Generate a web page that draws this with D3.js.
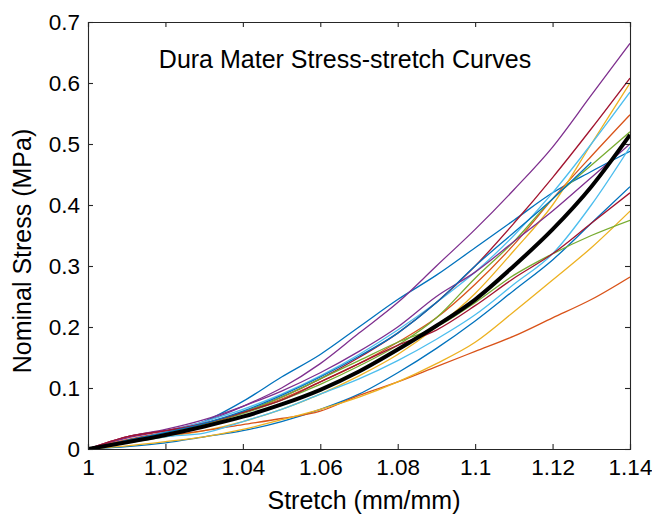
<!DOCTYPE html>
<html><head><meta charset="utf-8">
<script src="https://cdn.jsdelivr.net/npm/d3@7"></script>
<style>body{margin:0;background:#fff}svg{display:block}text{font-family:"Liberation Sans",Arial,Helvetica,sans-serif;fill:#000}</style>
</head><body>
<script>
// stretch grid (mm/mm)
const stretch = [1, 1.01, 1.02, 1.03, 1.04, 1.05, 1.06, 1.07, 1.08, 1.09, 1.10, 1.11, 1.12, 1.13, 1.14];
// individual specimen curves (nominal stress, MPa)
const blue1   = [0, 0.012, 0.025, 0.045, 0.078, 0.118, 0.155, 0.200, 0.245, 0.285, 0.330, 0.375, 0.420, 0.455, 0.488];
const orange1 = [0, 0.015, 0.028, 0.042, 0.060, 0.082, 0.110, 0.140, 0.175, 0.215, 0.270, 0.335, 0.410, 0.480, 0.548];
const yellow1 = [0, 0.010, 0.020, 0.030, 0.045, 0.065, 0.090, 0.120, 0.155, 0.200, 0.255, 0.325, 0.400, 0.500, 0.600];
const purple1 = [0, 0.018, 0.030, 0.045, 0.070, 0.100, 0.140, 0.190, 0.240, 0.300, 0.360, 0.425, 0.495, 0.580, 0.665];
const green1  = [0, 0.013, 0.026, 0.040, 0.058, 0.080, 0.106, 0.136, 0.170, 0.215, 0.280, 0.340, 0.410, 0.465, 0.520];
const lblue1  = [0, 0.012, 0.028, 0.045, 0.065, 0.090, 0.120, 0.155, 0.195, 0.240, 0.290, 0.350, 0.420, 0.500, 0.585];
const dred1   = [0, 0.020, 0.030, 0.040, 0.060, 0.085, 0.115, 0.150, 0.190, 0.240, 0.300, 0.370, 0.445, 0.525, 0.608];
const blue2   = [0, 0.004, 0.010, 0.020, 0.030, 0.045, 0.065, 0.090, 0.125, 0.165, 0.210, 0.260, 0.310, 0.370, 0.430];
const orange2 = [0, 0.015, 0.022, 0.030, 0.040, 0.050, 0.062, 0.088, 0.110, 0.135, 0.160, 0.185, 0.215, 0.245, 0.282];
const yellow2 = [0, 0.005, 0.012, 0.020, 0.032, 0.048, 0.065, 0.085, 0.110, 0.140, 0.175, 0.225, 0.277, 0.330, 0.390];
const purple2 = [0, 0.020, 0.032, 0.048, 0.070, 0.095, 0.125, 0.160, 0.200, 0.250, 0.290, 0.340, 0.390, 0.445, 0.500];
const green2  = [0, 0.012, 0.025, 0.040, 0.060, 0.085, 0.115, 0.145, 0.175, 0.200, 0.240, 0.285, 0.320, 0.350, 0.375];
const lblue2  = [0, 0.010, 0.020, 0.026, 0.045, 0.065, 0.090, 0.115, 0.145, 0.180, 0.220, 0.270, 0.320, 0.400, 0.495];
const dred2   = [0, 0.020, 0.030, 0.042, 0.060, 0.080, 0.110, 0.140, 0.170, 0.195, 0.235, 0.280, 0.320, 0.370, 0.420];
const blue3   = [0, 0.014, 0.027, 0.042, 0.062, 0.088, 0.118, 0.152, 0.190, 0.240, 0.300, 0.355, 0.410, 0.470, null];
// mean curve
const meanCurve = [0, 0.011, 0.023, 0.037, 0.053, 0.073, 0.097, 0.127, 0.163, 0.202, 0.245, 0.300, 0.360, 0.430, 0.515];

const specimens = [blue1, orange1, yellow1, purple1, green1, lblue1, dred1, blue2, orange2, yellow2, purple2, green2, lblue2, dred2, blue3];
const xTicks = [1, 1.02, 1.04, 1.06, 1.08, 1.1, 1.12, 1.14];
const yTicks = [0, 0.1, 0.2, 0.3, 0.4, 0.5, 0.6, 0.7];
const colorOrder = ["#0072BD", "#D95319", "#EDB120", "#7E2F8E", "#77AC30", "#4DBEEE", "#A2142F"];

(function () {
const W = 652, H = 519;
const m = {left: 88, right: 22, top: 22, bottom: 70};
const svg = d3.select("body").append("svg").attr("width", W).attr("height", H);
const x = d3.scaleLinear().domain([1, 1.14]).range([m.left, W - m.right]);
const y = d3.scaleLinear().domain([0, 0.7]).range([H - m.bottom, m.top]);

svg.append("clipPath").attr("id", "c").append("rect")
  .attr("x", m.left).attr("y", m.top).attr("width", W - m.left - m.right).attr("height", H - m.top - m.bottom);

const line = d3.line().defined(d => d[1] != null).curve(d3.curveMonotoneX).x(d => x(d[0])).y(d => y(d[1]));
const g = svg.append("g").attr("clip-path", "url(#c)");
specimens.forEach((vals, i) => {
  g.append("path").datum(stretch.map((s, k) => [s, vals[k]]))
    .attr("d", line).attr("fill", "none")
    .attr("stroke", colorOrder[i % colorOrder.length]).attr("stroke-width", 1.3);
});
g.append("path").datum(stretch.map((s, k) => [s, meanCurve[k]]))
  .attr("d", line).attr("fill", "none").attr("stroke", "#000").attr("stroke-width", 4)
  .attr("stroke-linejoin", "round");

const axCol = "#262626";
const fmtX = d => d3.format("")(+d.toFixed(2));
const axB = svg.append("g").attr("transform", `translate(0,${H - m.bottom})`)
  .call(d3.axisBottom(x).tickValues(xTicks).tickSize(-5).tickPadding(10).tickFormat(fmtX));
const axT = svg.append("g").attr("transform", `translate(0,${m.top})`)
  .call(d3.axisTop(x).tickValues(xTicks).tickSize(-5).tickFormat(""));
const axL = svg.append("g").attr("transform", `translate(${m.left},0)`)
  .call(d3.axisLeft(y).tickValues(yTicks).tickSize(-5).tickPadding(8).tickFormat(d => d3.format("")(+d.toFixed(1))));
const axR = svg.append("g").attr("transform", `translate(${W - m.right},0)`)
  .call(d3.axisRight(y).tickValues(yTicks).tickSize(-5).tickFormat(""));
[axB, axT, axL, axR].forEach(a => {
  a.selectAll("path").attr("stroke", axCol).attr("stroke-width", 1.1);
  a.selectAll("line").attr("stroke", axCol).attr("stroke-width", 1.1);
  a.selectAll("text").style("font-size", "22.5px").attr("fill", "#1a1a1a");
});

svg.append("text").attr("x", 345).attr("y", 68).attr("text-anchor", "middle")
  .style("font-size", "25px").text("Dura Mater Stress-stretch Curves");
svg.append("text").attr("x", 364).attr("y", 509).attr("text-anchor", "middle")
  .style("font-size", "25px").text("Stretch (mm/mm)");
svg.append("text").attr("transform", `translate(31,251) rotate(-90)`)
  .attr("text-anchor", "middle").style("font-size", "25px").text("Nominal Stress (MPa)");
})();
</script>
</body></html>
